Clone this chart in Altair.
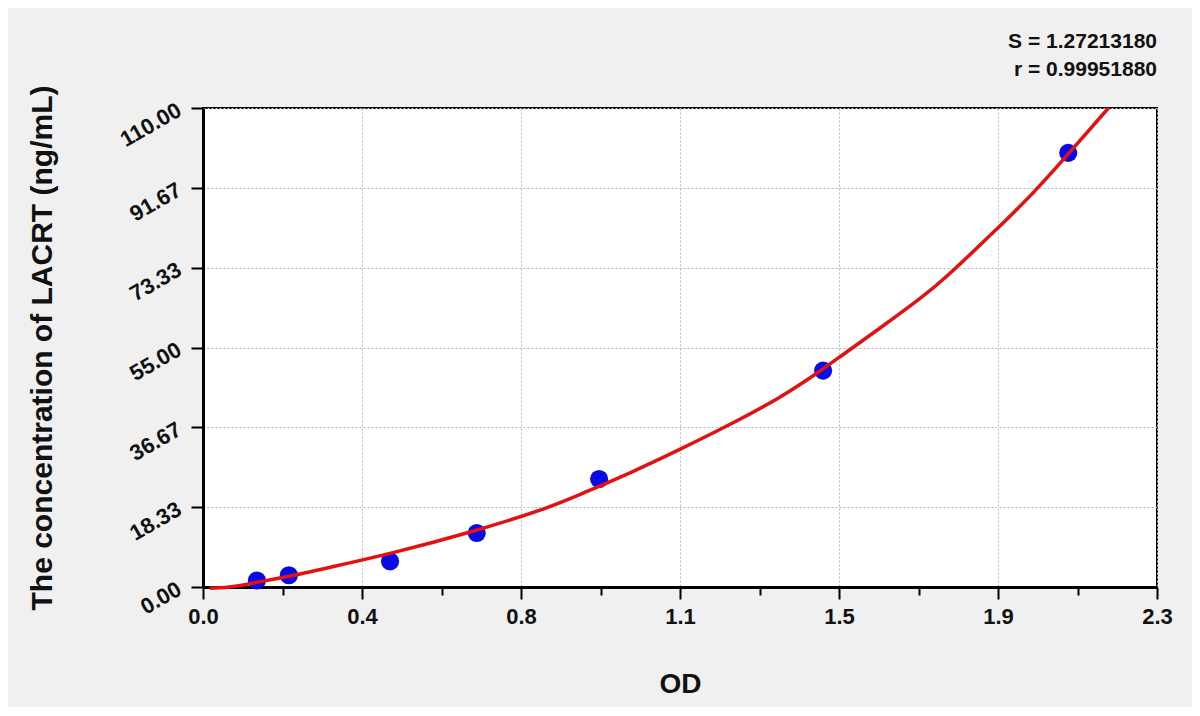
import altair as alt
import pandas as pd

# Standard points (OD, concentration)
od = [0.130, 0.207, 0.451, 0.660, 0.955, 1.495, 2.086]
conc = [1.5, 2.7, 5.9, 12.4, 24.8, 49.7, 99.7]

# Fitted curve
curve_od = [0.017, 0.073, 0.130, 0.207, 0.300, 0.451, 0.660, 0.837, 0.910, 1.031,
            1.150, 1.258, 1.394, 1.497, 1.533, 1.637, 1.733, 1.785, 1.913, 2.003,
            2.085, 2.183]
curve_conc = [-0.3, 0.0, 1.1, 2.4, 4.4, 7.6, 12.9, 18.3, 21.3, 26.2,
              31.6, 36.67, 43.5, 50.2, 52.7, 59.75, 66.5, 70.5, 82.1, 90.5,
              99.3, 110.0]

# Axis ticks: majors every 2.3/6 and 110/6, four minor steps between
x_step = 2.3 / 6
y_step = 110 / 6
x_ticks = [i * x_step / 4 for i in range(25)]
y_ticks = [i * y_step / 4 for i in range(25)]

stats = ["S = 1.27213180", "r = 0.99951880"]

pts = pd.DataFrame({"OD": od, "conc": conc})
cur = pd.DataFrame({"OD": curve_od, "conc": curve_conc})

FONT = "Liberation Sans"
W, H = 954, 479

x_major = f"abs(datum.value/{x_step} - round(datum.value/{x_step})) < 0.01"
y_major = f"abs(datum.value/{y_step} - round(datum.value/{y_step})) < 0.01"

x_axis = alt.Axis(
    values=x_ticks,
    labelExpr=f"({x_major}) ? format(datum.value, '.1f') : ''",
    tickSize={"condition": {"test": x_major, "value": 12}, "value": 8},
    gridOpacity={"condition": {"test": x_major, "value": 1}, "value": 0},
    grid=True, gridColor="#b8b8b8", gridDash=[2, 2], gridWidth=1,
    domainColor="black", domainWidth=3, tickColor="black", tickWidth=2,
    labelFont=FONT, labelFontSize=22, labelFontWeight="bold", labelColor="#111",
    labelPadding=7, labelFlush=False,
    title="OD", titleFont=FONT, titleFontSize=28, titleFontWeight="bold",
    titleColor="#111", titleX=W / 2, titleY=105, titleBaseline="alphabetic",
)

y_axis = alt.Axis(
    values=y_ticks,
    labelExpr=f"({y_major}) ? format(datum.value, '.2f') : ''",
    tickSize={"condition": {"test": y_major, "value": 12}, "value": 8},
    gridOpacity={"condition": {"test": y_major, "value": 1}, "value": 0},
    grid=True, gridColor="#b8b8b8", gridDash=[2, 2], gridWidth=1,
    domainColor="black", domainWidth=3, tickColor="black", tickWidth=2,
    labelFont=FONT, labelFontSize=22, labelFontWeight="bold", labelColor="#111",
    labelAngle=330, labelAlign="right", labelBaseline="middle", labelPadding=12,
    labelFlush=False,
    title="The concentration of LACRT (ng/mL)", titleFont=FONT, titleFontSize=30,
    titleFontWeight="bold", titleColor="#111", titleX=-152, titleY=H / 2,
    titleBaseline="alphabetic", titleAngle=270,
)

xs = alt.Scale(domain=[0, 2.3], nice=False, zero=False)
ys = alt.Scale(domain=[0, 110], nice=False, zero=False)

points = alt.Chart(pts).mark_circle(size=330, color="#0a0ae6", opacity=1).encode(
    x=alt.X("OD:Q", scale=xs, axis=x_axis),
    y=alt.Y("conc:Q", scale=ys, axis=y_axis),
)

line = alt.Chart(cur).mark_line(color="#e31212", strokeWidth=3.5, interpolate="basis").encode(
    x=alt.X("OD:Q", scale=xs),
    y=alt.Y("conc:Q", scale=ys),
)

chart = (
    alt.layer(points, line)
    .properties(
        width=W,
        height=H,
        autosize=alt.AutoSizeParams(type="none"),
        padding={"left": 195, "top": 100, "right": 35, "bottom": 120},
        background="#f0f0f0",
        title=alt.TitleParams(
            text=stats, anchor="end", frame="group", font=FONT, fontSize=21,
            fontWeight="bold", color="#111", lineHeight=28, offset=5,
        ),
    )
    .configure_view(stroke="black", strokeWidth=2, fill="white")
)

chart.save("out.html", embed_options={"renderer": "svg", "actions": False})
